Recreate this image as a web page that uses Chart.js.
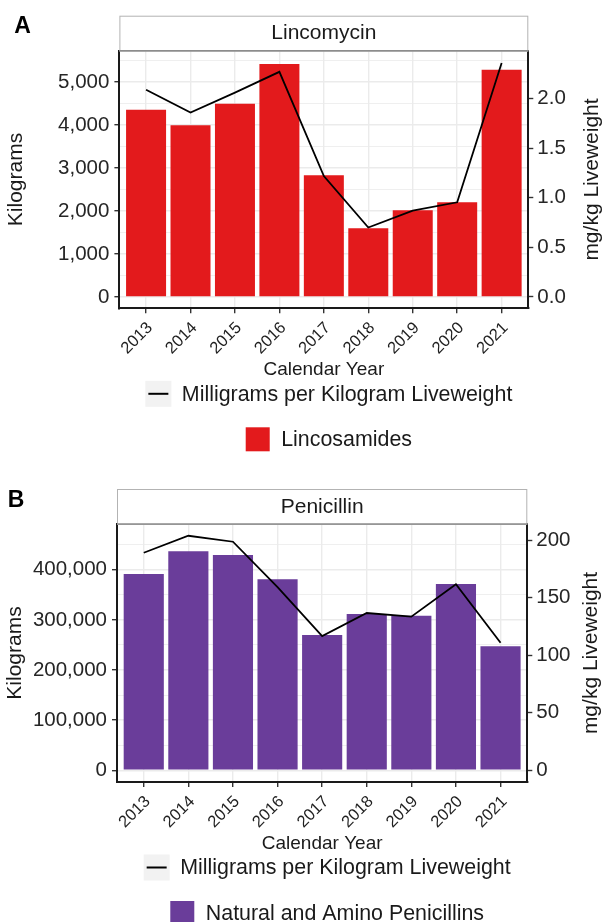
<!DOCTYPE html>
<html>
<head>
<meta charset="utf-8">
<script src="https://cdn.jsdelivr.net/npm/chart.js@4.4.0/dist/chart.umd.min.js"></script>
<style>
  html, body { margin: 0; padding: 0; background: #fff; }
  canvas { position: absolute; left: 0; }
</style>
</head>
<body>
<canvas id="chartA" width="602" height="470" style="top:0px"></canvas>
<canvas id="chartB" width="602" height="452" style="top:470px"></canvas>
<script>
// years on the x axis
var years = ['2013', '2014', '2015', '2016', '2017', '2018', '2019', '2020', '2021'];

// Lincomycin (panel A)
var lincoKg = [4356, 3993, 4495, 5419, 2830, 1598, 2016, 2202, 5286];
var lincoMgKg = [2.09, 1.86, 2.06, 2.27, 1.22, 0.70, 0.87, 0.955, 2.36];
var lincoKgTicks = [0, 1000, 2000, 3000, 4000, 5000];
var lincoMgTicks = [0, 0.5, 1.0, 1.5, 2.0];

// Penicillin (panel B)
var peniKg = [391400, 436700, 429300, 380900, 269800, 311700, 308300, 371500, 247300];
var peniMgKg = [188.9, 203.7, 198.5, 159, 116.6, 136.6, 133.4, 161.5, 110.8];
var peniKgTicks = [0, 100000, 200000, 300000, 400000];
var peniMgTicks = [0, 50, 100, 150, 200];

Chart.defaults.font.family = '"Liberation Sans", Arial, Helvetica, sans-serif';
Chart.defaults.color = '#262626';

// strip, panel letter, legend and right axis title
var facetDecor = {
    id: 'facetDecor',
    afterDraw: function(chart, args, o) {
        var ctx = chart.ctx;
        var ca = chart.chartArea;
        ctx.save();

        // strip on top of the panel
        ctx.fillStyle = '#ffffff';
        ctx.fillRect(ca.left, ca.top - 35, ca.right - ca.left, 35);
        ctx.strokeStyle = '#b3b3b3';
        ctx.lineWidth = 1;
        ctx.strokeRect(ca.left + 0.5, ca.top - 34.5, ca.right - ca.left - 1, 35);
        ctx.strokeStyle = '#8c8c8c';
        ctx.lineWidth = 1.5;
        ctx.beginPath();
        ctx.moveTo(ca.left, ca.top);
        ctx.lineTo(ca.right, ca.top);
        ctx.stroke();
        ctx.fillStyle = '#1a1a1a';
        ctx.font = '21px "Liberation Sans", Arial, sans-serif';
        ctx.textAlign = 'center';
        ctx.textBaseline = 'middle';
        ctx.fillText(o.strip, (ca.left + ca.right) / 2, ca.top - 17);

        // panel letter
        ctx.fillStyle = '#000000';
        ctx.font = 'bold 23px "Liberation Sans", Arial, sans-serif';
        ctx.fillText(o.letter, o.letterX, o.letterY);

        // right axis title, reading upward
        ctx.fillStyle = '#1a1a1a';
        ctx.font = '21px "Liberation Sans", Arial, sans-serif';
        ctx.translate(o.rightTitleX, (ca.top + ca.bottom) / 2);
        ctx.rotate(-Math.PI / 2);
        ctx.fillText(o.rightTitle, 0, 0);
        ctx.setTransform(1, 0, 0, 1, 0, 0);

        // legends
        ctx.textAlign = 'left';
        ctx.font = '21.4px "Liberation Sans", Arial, sans-serif';
        var cx = (ca.left + ca.right) / 2 + 5;
        var w1 = 26 + 10.5 + ctx.measureText(o.lineLabel).width;
        var x1 = cx - w1 / 2;
        var y1 = ca.bottom + 85.5;
        ctx.fillStyle = '#f2f2f2';
        ctx.fillRect(x1, y1 - 13, 26, 26);
        ctx.strokeStyle = '#000000';
        ctx.lineWidth = 2;
        ctx.beginPath();
        ctx.moveTo(x1 + 3, y1);
        ctx.lineTo(x1 + 23, y1);
        ctx.stroke();
        ctx.fillStyle = '#1a1a1a';
        ctx.fillText(o.lineLabel, x1 + 36.5, y1 + 1);

        var w2 = 24 + 11.5 + ctx.measureText(o.fillLabel).width;
        var x2 = cx - w2 / 2;
        var y2 = ca.bottom + 131;
        ctx.fillStyle = o.fillColor;
        ctx.fillRect(x2, y2 - 12, 24, 24);
        ctx.fillStyle = '#1a1a1a';
        ctx.fillText(o.fillLabel, x2 + 35.5, y2 + 1);
        ctx.restore();
    }
};

// major ticks from the list, plus a minor grid line half way to the next one
function kgTicks(list, max) {
    var step = list[1] - list[0];
    var out = [];
    list.forEach(function(v) {
        out.push({value: v, isMajor: true});
        if (v + step / 2 < max) out.push({value: v + step / 2, isMajor: false});
    });
    return out;
}

function buildPanel(canvasId, kg, mgkg, kgTickList, mgTickList, color, s) {
    var barData = kg.map(function(v, i) { return {x: i, y: v}; });
    var lineData = mgkg.map(function(v, i) { return {x: i, y: v}; });

    return new Chart(document.getElementById(canvasId), {
        type: 'bar',
        data: {
            datasets: [{
                type: 'line',
                label: 'Milligrams per Kilogram Liveweight',
                data: lineData,
                yAxisID: 'y2',
                borderColor: '#000000',
                borderWidth: 1.8,
                pointRadius: 0,
                tension: 0,
                order: 0
            }, {
                label: s.fillLabel,
                data: barData,
                yAxisID: 'y',
                backgroundColor: color,
                borderWidth: 0,
                barPercentage: 0.9,
                categoryPercentage: 1,
                order: 1
            }]
        },
        options: {
            responsive: false,
            animation: false,
            layout: { padding: { top: s.padTop, bottom: s.padBottom, left: 0, right: 0 } },
            plugins: {
                legend: { display: false },
                tooltip: { enabled: false },
                facetDecor: {
                    strip: s.strip,
                    letter: s.letter,
                    letterX: s.letterX,
                    letterY: s.letterY,
                    rightTitle: 'mg/kg Liveweight',
                    rightTitleX: s.rightTitleX,
                    lineLabel: 'Milligrams per Kilogram Liveweight',
                    fillLabel: s.fillLabel,
                    fillColor: color
                }
            },
            scales: {
                x: {
                    type: 'linear',
                    min: -0.6,
                    max: 8.6,
                    offset: false,
                    afterFit: function(scale) { scale.height = s.xHeight; },
                    afterBuildTicks: function(scale) {
                        scale.ticks = years.map(function(y, i) { return {value: i}; });
                    },
                    grid: { offset: false, color: '#ebebeb', lineWidth: 1.4, tickColor: '#333333', tickLength: 5, tickWidth: 1.4 },
                    border: { display: true, color: '#1a1a1a', width: 2 },
                    ticks: {
                        autoSkip: false,
                        maxRotation: 45,
                        minRotation: 45,
                        padding: 5,
                        labelOffset: 4,
                        font: { size: 16.5 },
                        color: '#1f1f1f',
                        callback: function(v) { return years[Math.round(v)]; }
                    },
                    title: { display: true, text: 'Calendar Year', font: { size: 19, lineHeight: 1 }, padding: { top: 0, bottom: 0 }, color: '#1a1a1a' }
                },
                y: {
                    position: 'left',
                    min: s.yMin,
                    max: s.yMax,
                    bounds: 'data',
                    afterFit: function(scale) { scale.width = s.leftWidth; },
                    afterBuildTicks: function(scale) { scale.ticks = kgTicks(kgTickList, s.yMax); },
                    grid: {
                        color: '#ebebeb',
                        lineWidth: function(c) { return c.tick && c.tick.isMajor ? 1.4 : 0.8; },
                        tickColor: function(c) { return c.tick && c.tick.isMajor ? '#333333' : 'rgba(0,0,0,0)'; },
                        tickLength: 5,
                        tickWidth: 1.4
                    },
                    border: { display: true, color: '#1a1a1a', width: 2 },
                    ticks: {
                        autoSkip: false,
                        padding: 5,
                        font: { size: 20.5 },
                        callback: function(v, i, ticks) {
                            return ticks[i].isMajor ? v.toLocaleString('en-US') : '';
                        }
                    },
                    title: { display: true, text: 'Kilograms', font: { size: 21, lineHeight: 1 }, padding: { top: s.leftTitlePad, bottom: 0 }, color: '#1a1a1a' }
                },
                y2: {
                    position: 'right',
                    min: s.y2Min,
                    max: s.y2Max,
                    bounds: 'data',
                    afterFit: function(scale) { scale.width = s.rightWidth; },
                    afterBuildTicks: function(scale) {
                        scale.ticks = mgTickList.map(function(v) { return {value: v}; });
                    },
                    grid: { drawOnChartArea: false, tickColor: '#333333', tickLength: 5, tickWidth: 1.4 },
                    border: { display: true, color: '#1a1a1a', width: 2 },
                    ticks: {
                        autoSkip: false,
                        padding: 4,
                        font: { size: 20.5 },
                        callback: function(v) { return v.toFixed(s.y2Digits); }
                    }
                }
            }
        },
        plugins: [facetDecor]
    });
}

buildPanel('chartA', lincoKg, lincoMgKg, lincoKgTicks, lincoMgTicks, '#E31A1C', {
    strip: 'Lincomycin', letter: 'A', letterX: 22.5, letterY: 27,
    fillLabel: 'Lincosamides',
    padTop: 50.7, padBottom: 90.5, xHeight: 71.2, leftWidth: 119.4, rightWidth: 73.7,
    yMin: -263, yMax: 5728, leftTitlePad: 5.5,
    y2Min: -0.114, y2Max: 2.483, y2Digits: 1, rightTitleX: 592
});

buildPanel('chartB', peniKg, peniMgKg, peniKgTicks, peniMgTicks, '#6A3D9A', {
    strip: 'Penicillin', letter: 'B', letterX: 16, letterY: 30.5,
    fillLabel: 'Natural and Amino Penicillins',
    padTop: 54, padBottom: 68.5, xHeight: 71.5, leftWidth: 117, rightWidth: 74.7,
    yMin: -23300, yMax: 491100, leftTitlePad: 4.8,
    y2Min: -10.2, y2Max: 213.9, y2Digits: 0, rightTitleX: 591.5
});
</script>
</body>
</html>
